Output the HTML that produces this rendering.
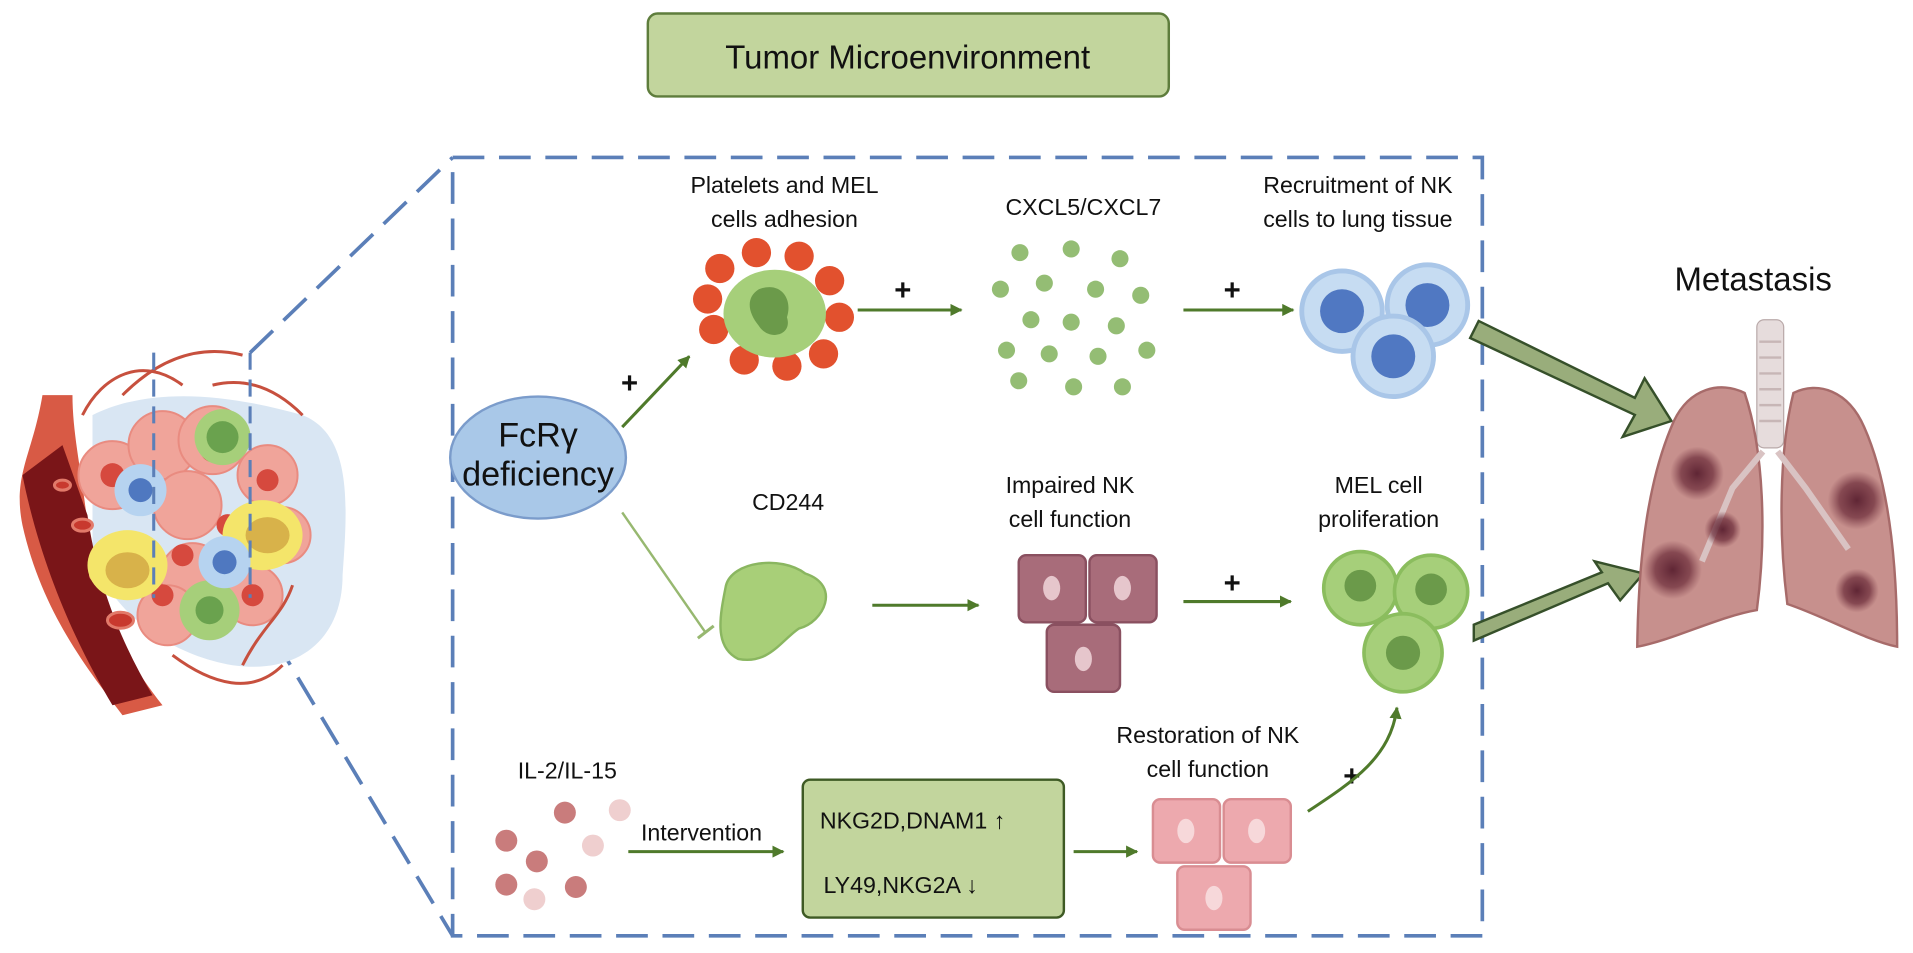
<!DOCTYPE html>
<html><head><meta charset="utf-8"><style>
html,body{margin:0;padding:0;background:#fff;}
svg{display:block;font-family:"Liberation Sans",sans-serif;}
</style></head><body>
<svg width="1913" height="953" viewBox="0 0 1568 781" xmlns="http://www.w3.org/2000/svg">
<defs>
<marker id="ar" markerWidth="10" markerHeight="10" refX="9" refY="5" orient="auto" markerUnits="userSpaceOnUse"><path d="M0,0 L10,5 L0,10 z" fill="#4f7a2b"/></marker>
<radialGradient id="tum"><stop offset="0" stop-color="#5a2030" stop-opacity="0.95"/><stop offset="0.6" stop-color="#6a2a38" stop-opacity="0.7"/><stop offset="1" stop-color="#7a3a45" stop-opacity="0"/></radialGradient>
</defs>
<rect x="531" y="11" width="427" height="68" rx="8" fill="#c2d59d" stroke="#5e7d3c" stroke-width="2"/>
<text x="744" y="56" font-size="27" text-anchor="middle" fill="#111">Tumor Microenvironment</text>

<rect x="371" y="129" width="844" height="638" fill="none" stroke="#5b7fb8" stroke-width="3" stroke-dasharray="26,12"/>
<line x1="205" y1="289" x2="371" y2="129" stroke="#5b7fb8" stroke-width="3" stroke-dasharray="26,12"/>
<line x1="205" y1="490" x2="371" y2="767" stroke="#5b7fb8" stroke-width="3" stroke-dasharray="26,12"/>

<g transform="translate(2,45) scale(0.82)">
<path d="M90,360 C150,330 230,340 300,360 C350,380 345,450 340,520 C340,580 300,620 230,610 C170,600 110,560 90,500 Z" fill="#d9e6f3"/>
<path d="M40,340 C30,400 10,420 20,470 C40,560 90,620 120,660 L160,650 C120,600 90,540 85,470 C80,420 70,380 70,340 Z" fill="#d85a45"/>
<path d="M20,420 C40,520 80,600 110,650 L150,640 C120,590 95,530 85,460 L60,390 Z" fill="#7a1518"/>
<g fill="#c8392e" stroke="#e27a6a" stroke-width="3">
<ellipse cx="60" cy="430" rx="8" ry="5"/><ellipse cx="80" cy="470" rx="10" ry="6"/><ellipse cx="100" cy="520" rx="12" ry="7"/><ellipse cx="118" cy="565" rx="13" ry="8"/>
</g>
<g fill="#f0a49a" stroke="#e98b80" stroke-width="2">
<circle cx="110" cy="420" r="34"/><circle cx="160" cy="390" r="34"/><circle cx="210" cy="385" r="34"/><circle cx="265" cy="420" r="30"/><circle cx="185" cy="450" r="34"/><circle cx="190" cy="520" r="32"/><circle cx="250" cy="540" r="30"/><circle cx="165" cy="560" r="30"/><circle cx="280" cy="480" r="28"/>
</g>
<g fill="#d6493e"><circle cx="110" cy="420" r="12"/><circle cx="210" cy="395" r="12"/><circle cx="265" cy="425" r="11"/><circle cx="225" cy="470" r="11"/><circle cx="180" cy="500" r="11"/><circle cx="160" cy="540" r="11"/><circle cx="250" cy="540" r="11"/></g>
<circle cx="220" cy="382" r="28" fill="#a6cf7a"/><circle cx="220" cy="382" r="16" fill="#6aa24e"/>
<circle cx="207" cy="555" r="30" fill="#a6cf7a"/><circle cx="207" cy="555" r="14" fill="#6aa24e"/>
<ellipse cx="125" cy="510" rx="40" ry="35" fill="#f4e56a"/><ellipse cx="125" cy="515" rx="22" ry="18" fill="#d8b24a"/>
<ellipse cx="260" cy="480" rx="40" ry="35" fill="#f4e56a"/><ellipse cx="265" cy="480" rx="22" ry="18" fill="#d8b24a"/>
<circle cx="138" cy="435" r="26" fill="#b6d3f0"/><circle cx="138" cy="435" r="12" fill="#4f78c0"/>
<circle cx="222" cy="507" r="26" fill="#b6d3f0"/><circle cx="222" cy="507" r="12" fill="#4f78c0"/>
<g stroke="#c7503e" stroke-width="3" fill="none">
<path d="M80,360 C100,320 140,300 180,330"/><path d="M120,340 C160,300 200,290 240,300"/><path d="M210,330 C250,320 280,340 300,360"/><path d="M170,600 C210,630 250,640 280,610"/><path d="M240,610 C260,570 280,560 290,530"/>
</g>
</g>
<line x1="126" y1="289" x2="126" y2="490" stroke="#5b7fb8" stroke-width="2.5" stroke-dasharray="14,8"/>
<line x1="205" y1="289" x2="205" y2="490" stroke="#5b7fb8" stroke-width="2.5" stroke-dasharray="14,8"/>

<g font-size="19" text-anchor="middle" fill="#111">
<text x="643" y="158">Platelets and MEL</text><text x="643" y="186">cells adhesion</text>
<text x="888" y="176">CXCL5/CXCL7</text>
<text x="1113" y="158">Recruitment of NK</text><text x="1113" y="186">cells to lung tissue</text>
<text x="646" y="418">CD244</text>
<text x="877" y="404">Impaired NK</text><text x="877" y="432">cell function</text>
<text x="1130" y="404">MEL cell</text><text x="1130" y="432">proliferation</text>
<text x="465" y="638">IL-2/IL-15</text>
<text x="990" y="609">Restoration of NK</text><text x="990" y="637">cell function</text>
<text x="575" y="689">Intervention</text>
</g>
<text x="1437" y="238" font-size="27" text-anchor="middle" fill="#111">Metastasis</text>

<ellipse cx="441" cy="375" rx="72" ry="50" fill="#a9c8e8" stroke="#7b9ccb" stroke-width="2"/>
<text x="441" y="366" font-size="28" text-anchor="middle" fill="#111">FcRγ</text>
<text x="441" y="398" font-size="28" text-anchor="middle" fill="#111">deficiency</text>

<g font-size="24" font-weight="bold" text-anchor="middle" fill="#111">
<text x="516" y="322">+</text><text x="740" y="246">+</text><text x="1010" y="246">+</text><text x="1010" y="486">+</text><text x="1108" y="644">+</text>
</g>

<g stroke="#4f7a2b" stroke-width="2.5" fill="none" marker-end="url(#ar)">
<line x1="510" y1="350" x2="565" y2="292"/>
<line x1="703" y1="254" x2="788" y2="254"/>
<line x1="970" y1="254" x2="1060" y2="254"/>
<line x1="715" y1="496" x2="802" y2="496"/>
<line x1="970" y1="493" x2="1058" y2="493"/>
<line x1="515" y1="698" x2="642" y2="698"/>
<line x1="880" y1="698" x2="932" y2="698"/>
<path d="M1072,665 C1110,640 1140,620 1145,580"/>
</g>
<line x1="510" y1="420" x2="578" y2="518" stroke="#97b870" stroke-width="2"/>
<line x1="572" y1="523" x2="585" y2="513" stroke="#97b870" stroke-width="2.5"/>

<rect x="658" y="639" width="214" height="113" rx="6" fill="#c2d59d" stroke="#3e5a24" stroke-width="2"/>
<text x="672" y="679" font-size="19" fill="#111">NKG2D,DNAM1 ↑</text>
<text x="675" y="732" font-size="19" fill="#111">LY49,NKG2A ↓</text>

<polygon points="1205,277 1340,340 1330,358 1370,345 1348,310 1340,326 1212,263" fill="#99ad7b" stroke="#36502a" stroke-width="2"/>
<polygon points="1208,525 1318,478 1328,492 1347,470 1307,460 1313,469 1208,512" fill="#99ad7b" stroke="#36502a" stroke-width="2"/>

<g transform="translate(0,-25)">
<g fill="#e2512e">
<circle cx="590" cy="245" r="12"/><circle cx="620" cy="232" r="12"/><circle cx="655" cy="235" r="12"/><circle cx="680" cy="255" r="12"/><circle cx="688" cy="285" r="12"/><circle cx="675" cy="315" r="12"/><circle cx="645" cy="325" r="12"/><circle cx="610" cy="320" r="12"/><circle cx="585" cy="295" r="12"/><circle cx="580" cy="270" r="12"/>
</g>
<ellipse cx="635" cy="282" rx="42" ry="36" fill="#a6cf7a"/>
<path d="M622,262 C640,255 650,270 645,285 C650,300 630,305 622,292 C612,280 612,268 622,262 Z" fill="#6b9a4a"/>
</g>

<g fill="#94bd74" transform="translate(0,-8)">
<circle cx="836" cy="215" r="7"/><circle cx="878" cy="212" r="7"/><circle cx="918" cy="220" r="7"/><circle cx="820" cy="245" r="7"/><circle cx="856" cy="240" r="7"/><circle cx="898" cy="245" r="7"/><circle cx="935" cy="250" r="7"/><circle cx="845" cy="270" r="7"/><circle cx="878" cy="272" r="7"/><circle cx="915" cy="275" r="7"/><circle cx="825" cy="295" r="7"/><circle cx="860" cy="298" r="7"/><circle cx="900" cy="300" r="7"/><circle cx="940" cy="295" r="7"/><circle cx="880" cy="325" r="7"/><circle cx="835" cy="320" r="7"/><circle cx="920" cy="325" r="7"/>
</g>

<g>
<circle cx="1100" cy="255" r="33" fill="#c6dcf2" stroke="#a9c6e8" stroke-width="4"/><circle cx="1100" cy="255" r="18" fill="#5078c2"/>
<circle cx="1170" cy="250" r="33" fill="#c6dcf2" stroke="#a9c6e8" stroke-width="4"/><circle cx="1170" cy="250" r="18" fill="#5078c2"/>
<circle cx="1142" cy="292" r="33" fill="#c6dcf2" stroke="#a9c6e8" stroke-width="4"/><circle cx="1142" cy="292" r="18" fill="#5078c2"/>
</g>

<path d="M595,480 C600,460 640,455 660,470 C690,480 675,510 655,515 C640,525 630,545 605,540 C585,530 590,505 595,480 Z" fill="#a8cf78" stroke="#8ab660" stroke-width="2"/>

<g fill="#a86c7a" stroke="#8a5060" stroke-width="2">
<rect x="835" y="455" width="55" height="55" rx="6"/><rect x="893" y="455" width="55" height="55" rx="6"/><rect x="858" y="512" width="60" height="55" rx="6"/>
</g>
<g fill="#e6c6cc"><ellipse cx="862" cy="482" rx="7" ry="10"/><ellipse cx="920" cy="482" rx="7" ry="10"/><ellipse cx="888" cy="540" rx="7" ry="10"/></g>

<g fill="#a6cf7a" stroke="#8bbd5e" stroke-width="3">
<circle cx="1115" cy="482" r="30"/><circle cx="1173" cy="485" r="30"/><circle cx="1150" cy="535" r="32"/>
</g>
<g fill="#6b9a4a"><circle cx="1115" cy="480" r="13"/><circle cx="1173" cy="483" r="13"/><circle cx="1150" cy="535" r="14"/></g>

<g fill="#eda9ae" stroke="#d98d92" stroke-width="2">
<rect x="945" y="655" width="55" height="52" rx="6"/><rect x="1003" y="655" width="55" height="52" rx="6"/><rect x="965" y="710" width="60" height="52" rx="6"/>
</g>
<g fill="#f7d8da"><ellipse cx="972" cy="681" rx="7" ry="10"/><ellipse cx="1030" cy="681" rx="7" ry="10"/><ellipse cx="995" cy="736" rx="7" ry="10"/></g>

<g fill="#c97c7c">
<circle cx="463" cy="666" r="9"/><circle cx="415" cy="689" r="9"/><circle cx="440" cy="706" r="9"/><circle cx="472" cy="727" r="9"/><circle cx="415" cy="725" r="9"/>
</g>
<g fill="#efcfcf">
<circle cx="508" cy="664" r="9"/><circle cx="486" cy="693" r="9"/><circle cx="438" cy="737" r="9"/>
</g>

<rect x="1440" y="262" width="22" height="105" rx="6" fill="#e6dcdc" stroke="#b9a9a9"/>
<g stroke="#c7b6b6" stroke-width="2"><line x1="1442" y1="280" x2="1460" y2="280"/><line x1="1442" y1="293" x2="1460" y2="293"/><line x1="1442" y1="306" x2="1460" y2="306"/><line x1="1442" y1="319" x2="1460" y2="319"/><line x1="1442" y1="332" x2="1460" y2="332"/><line x1="1442" y1="345" x2="1460" y2="345"/></g>
<path d="M1430,322 C1410,312 1385,318 1372,345 C1352,390 1343,450 1342,530 C1370,525 1410,505 1440,500 C1448,440 1446,370 1430,322 Z" fill="#c7908d" stroke="#a76b6a" stroke-width="2"/>
<path d="M1470,322 C1490,312 1515,320 1528,350 C1548,395 1555,460 1555,530 C1530,525 1495,505 1465,495 C1458,440 1458,370 1470,322 Z" fill="#c7908d" stroke="#a76b6a" stroke-width="2"/>
<path d="M1445,370 L1420,400 L1395,460 M1457,370 L1480,400 L1515,450" stroke="#d9c3c3" stroke-width="5" fill="none"/>
<circle cx="1391" cy="388" r="22" fill="url(#tum)"/>
<circle cx="1412" cy="434" r="15" fill="url(#tum)"/>
<circle cx="1371" cy="467" r="24" fill="url(#tum)"/>
<circle cx="1522" cy="410" r="24" fill="url(#tum)"/>
<circle cx="1522" cy="484" r="18" fill="url(#tum)"/>
</svg>
</body></html>
